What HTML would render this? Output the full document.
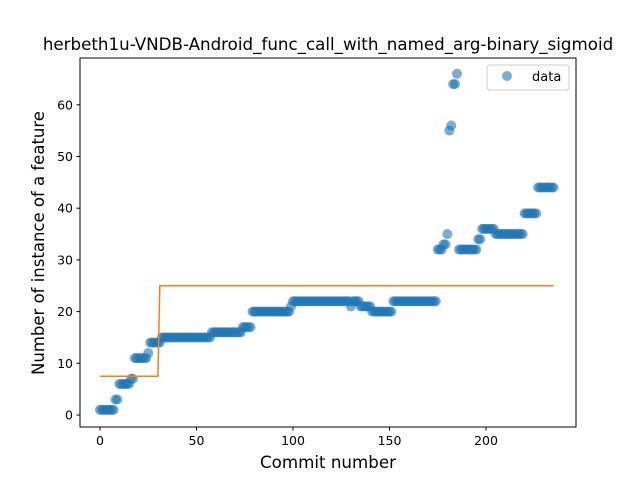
<!DOCTYPE html>
<html><head><meta charset="utf-8"><style>
body{margin:0;background:#fff}
svg{font-family:"DejaVu Sans","Liberation Sans",sans-serif}
</style></head><body>
<svg id="chart" width="640" height="480" xmlns="http://www.w3.org/2000/svg">
<rect width="640" height="480" fill="#fff"/>
<text x="328" y="50" text-anchor="middle" font-size="16.7">herbeth1u-VNDB-Android_func_call_with_named_arg-binary_sigmoid</text>
<g id="plot"></g>
<rect x="80" y="58" width="496" height="369" fill="none" stroke="#000" stroke-width="1"/>
<g id="axes"></g>
<text x="328" y="468" text-anchor="middle" font-size="16.7">Commit number</text>
<text transform="translate(44,243) rotate(-90)" text-anchor="middle" font-size="16.5">Number of instance of a feature</text>
<g>
<rect x="487" y="65" width="82" height="25" rx="3" fill="#fff" stroke="#ccc"/>
<circle cx="507" cy="76" r="5" fill="#1f77b4" fill-opacity="0.6"/>
<text x="532" y="81" font-size="13">data</text>
</g>
</svg>
<script>
const yValues = [1,1,1,1,1,1,1,1,3,3,6,6,6,6,6,6,7,7,11,11,11,11,11,11,11,12,14,14,14,14,14,14,
15,15,15,15,15,15,15,15,15,15,15,15,15,15,15,15,15,15,15,15,15,15,15,15,15,15,
16,16,16,16,16,16,16,16,16,16,16,16,16,16,16,16,17,17,17,17,17,
20,20,20,20,20,20,20,20,20,20,20,20,20,20,20,20,20,20,20,20,21,
22,22,22,22,22,22,22,22,22,22,22,22,22,22,22,22,22,22,22,22,22,22,22,22,22,22,22,22,22,22,
21,22,22,22,22,21,21,21,21,21,21,20,20,20,20,20,20,20,20,20,20,20,
22,22,22,22,22,22,22,22,22,22,22,22,22,22,22,22,22,22,22,22,22,22,22,
32,32,32,33,33,35,55,56,64,64,66,32,32,32,32,32,32,32,32,32,32,34,34,
36,36,36,36,36,36,36,35,35,35,35,35,35,35,35,35,35,35,35,35,35,35,
39,39,39,39,39,39,39,44,44,44,44,44,44,44,44,44];
const fitX = [0,30,31,235];
const fitY = [7.5,7.5,25,25];
const xTicks = [0,50,100,150,200];
const yTicks = [0,10,20,30,40,50,60];
const NS="http://www.w3.org/2000/svg";
const sx = v => 100 + v*1.93;
const sy = v => 415 - v*5.17;
const plot=document.getElementById('plot'), axes=document.getElementById('axes');
yValues.forEach((v,i)=>{
  const c=document.createElementNS(NS,'circle');
  c.setAttribute('cx',sx(i));c.setAttribute('cy',sy(v));c.setAttribute('r',5);
  c.setAttribute('fill','#1f77b4');c.setAttribute('fill-opacity','0.6');
  
  
  plot.appendChild(c);
});
const pl=document.createElementNS(NS,'polyline');
pl.setAttribute('points',fitX.map((x,i)=>sx(x)+','+sy(fitY[i])).join(' '));
pl.setAttribute('fill','none');pl.setAttribute('stroke','#ff7f0e');pl.setAttribute('stroke-width','1.5');


plot.appendChild(pl);
xTicks.forEach(t=>{
  const l=document.createElementNS(NS,'line');
  l.setAttribute('x1',sx(t));l.setAttribute('x2',sx(t));l.setAttribute('y1',427);l.setAttribute('y2',430.5);l.setAttribute('stroke','#000');
  
  
  axes.appendChild(l);
  const tx=document.createElementNS(NS,'text');
  tx.setAttribute('x',sx(t));tx.setAttribute('y',445);tx.setAttribute('text-anchor','middle');tx.setAttribute('font-size','12.5');
  tx.textContent=t;
  
  
  axes.appendChild(tx);
});
yTicks.forEach(t=>{
  const l=document.createElementNS(NS,'line');
  l.setAttribute('x1',76.5);l.setAttribute('x2',80);l.setAttribute('y1',sy(t));l.setAttribute('y2',sy(t));l.setAttribute('stroke','#000');
  
  
  axes.appendChild(l);
  const tx=document.createElementNS(NS,'text');
  tx.setAttribute('x',73);tx.setAttribute('y',sy(t)+4.5);tx.setAttribute('text-anchor','end');tx.setAttribute('font-size','12.5');
  tx.textContent=t;
  
  
  axes.appendChild(tx);
});
</script>
</body></html>
